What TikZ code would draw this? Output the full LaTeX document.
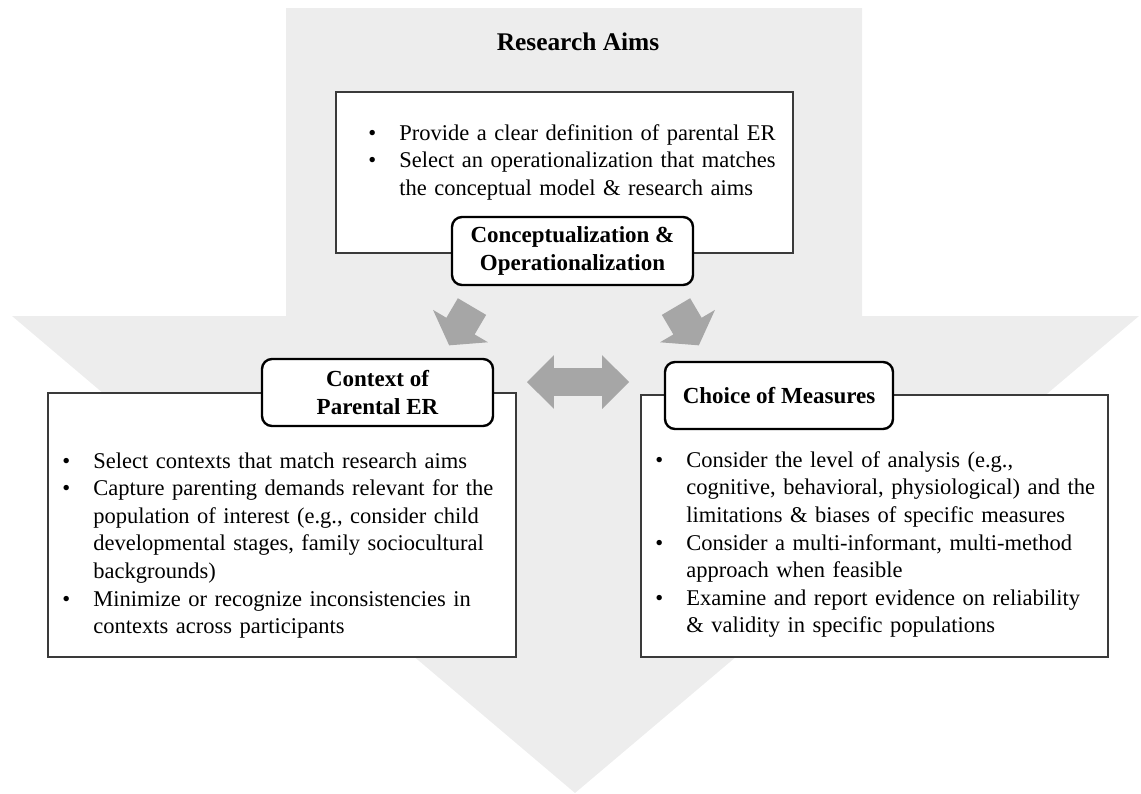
\documentclass[tikz,border=0pt]{standalone}
\usepackage{fontspec}
\setmainfont{Liberation Serif}
\usetikzlibrary{shapes.arrows}
\definecolor{bigarrow}{HTML}{EDEDED}
\definecolor{blockgray}{HTML}{A6A6A6}
\definecolor{frame}{HTML}{3A3A3A}
\tikzset{%
  box/.style={%
    draw=frame,
    fill=white,
    line width=1pt
  },
  tag/.style={%
    draw=black, fill=white,
    rounded corners=5pt,
    line width=1.2pt,
    align=center,
    inner sep=0pt,
    font=\bfseries\fontsize{11.5}{14}\selectfont
  },
  body/.style={%
    anchor=north west,
    inner sep=0pt,
    align=left,
    text width=235pt,
    font=\fontsize{11.25}{13.8}\selectfont
  },
  flow/.style={%
    single arrow, fill=blockgray, draw=none,
    inner xsep=0pt, inner ysep=8pt,
    minimum width=0pt, minimum height=22.5pt,
    single arrow head extend=7.75pt,
    single arrow tip angle=110
  },
  swap/.style={%
    double arrow, fill=blockgray, draw=none,
    inner xsep=0pt, inner ysep=6.75pt,
    minimum width=0pt, minimum height=51pt,
    double arrow head extend=6.5pt,
    double arrow tip angle=90
  }
}
\newcommand{\erbullet}[1]{\raggedright\noindent\hangindent=15.5pt\hangafter=1\makebox[15.5pt][l]{\textbullet}#1\par}

\begin{document}
\begin{tikzpicture}[x=0.5pt,y=-0.5pt]
    \useasboundingbox (0,0) rectangle (1141,793);
    % the big arrow behind everything
    \fill[bigarrow] (286,8) -- (862,8) -- (862,316) -- (1139,316)
      -- (575,793) -- (12,316) -- (286,316) -- cycle;
    \node[font=\bfseries\fontsize{12.7}{15}\selectfont] (aims) at (578,42) {Research Aims};

    % boxes
    \filldraw[box] (336,92) rectangle (793,253);
    \filldraw[box] (48,393) rectangle (516,657);
    \filldraw[box] (641,395) rectangle (1108,657);

    \node[body] (aimstext) at (368,124) {%
      \erbullet{Provide a clear definition of parental ER}
      \erbullet{Select an operationalization that matches\newline the conceptual model \& research aims}};
    \node[body] (ctxtext) at (62,452) {%
      \erbullet{Select contexts that match research aims}
      \erbullet{Capture parenting demands relevant for the\newline population of interest (e.g., consider child\newline developmental stages, family sociocultural\newline backgrounds)}
      \erbullet{Minimize or recognize inconsistencies in\newline contexts across participants}};
    \node[body] (meastext) at (655,451) {%
      \erbullet{Consider the level of analysis (e.g.,\newline cognitive, behavioral, physiological) and the\newline limitations \& biases of specific measures}
      \erbullet{Consider a multi-informant, multi-method\newline approach when feasible}
      \erbullet{Examine and report evidence on reliability\newline \& validity in specific populations}};

    % labels
    \node[tag, minimum width=120.5pt, minimum height=34pt] (concept) at (572.5,251) {Conceptualization \&\\Operationalization};
    \node[tag, minimum width=115.5pt, minimum height=33.5pt] (context) at (377.5,392.5) {Context of\\Parental ER};
    \node[tag, minimum width=114pt, minimum height=33.5pt] (measures) at (779,395.5) {Choice of Measures};

    % block arrows
    \node[flow, rotate=239.5] (toctx) at (463.5,321) {};
    \node[flow, rotate=-59.5] (tomeas) at (684.5,321) {};
    \node[swap] (between) at (578,382) {};
  \end{tikzpicture}
\end{document}
